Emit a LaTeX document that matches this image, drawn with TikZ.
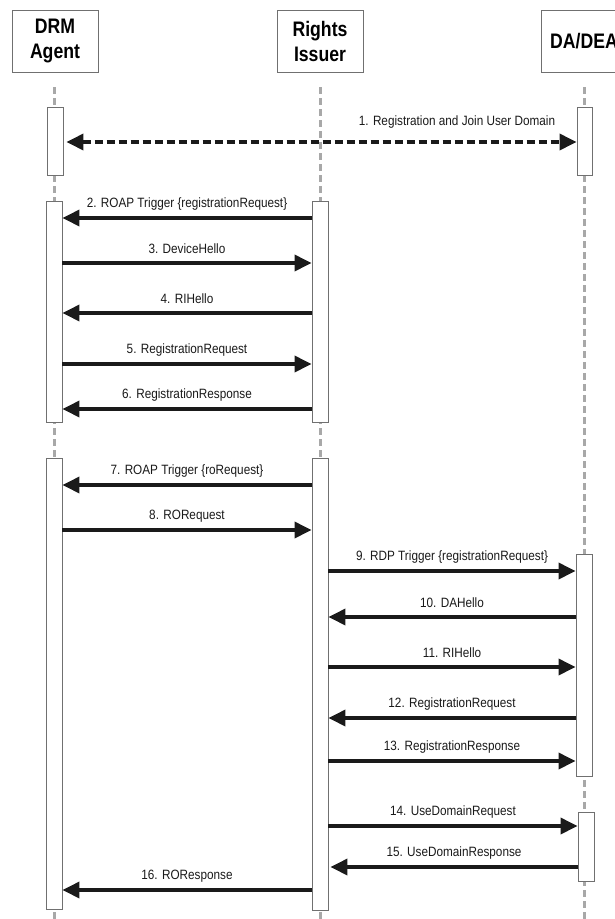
\documentclass[tikz,border=0pt]{standalone}
\usepackage{fontspec}
\setmainfont{Liberation Sans}
\newfontfamily\lblfont[FakeStretch=0.87]{Liberation Sans}
\newfontfamily\ttlfont[FakeStretch=0.84]{Liberation Sans Bold}
\usetikzlibrary{arrows.meta}
\definecolor{boxgray}{HTML}{707070}
\definecolor{lifegray}{HTML}{A8A8A8}
\definecolor{ink}{HTML}{1A1A1A}
\begin{document}
\begin{tikzpicture}[x=1pt,y=-1pt,
  header/.style={draw=boxgray,line width=0.9pt,minimum width=86pt,minimum height=62pt,inner sep=0pt,align=center,font=\ttlfont\fontsize{21}{25}\selectfont},
  actbox/.style={draw=boxgray,fill=white,line width=0.9pt,minimum width=16pt,inner sep=0pt},
  lifeline/.style={draw=lifegray,line width=3pt,dash pattern=on 7pt off 4pt},
  msg/.style={draw=ink,line width=3.5pt,-{Triangle[length=17pt,width=16pt]}},
  dmsg/.style={draw=ink,line width=3.5pt,dash pattern=on 8pt off 4pt,{Triangle[length=17pt,width=16pt]}-{Triangle[length=17pt,width=16pt]}},
  lblfnt/.style={font=\lblfont\fontsize{13.5}{16}\selectfont,text=ink,inner sep=0pt},
  lbl/.style={lblfnt,midway,yshift=14pt}
]
\useasboundingbox (0,0) rectangle (615,919);
\clip (0,0) rectangle (615,919);
\fill[white] (0,0) rectangle (615,919);

% headers
\node[header] (hdrm) at (55,41) {DRM\\Agent};
\node[header] (hri) at (320,41) {Rights\\Issuer};
\node[header] (hda) at (584,41) {DA/DEA};

% lifelines
\coordinate (ldrmT) at (54.5,87);  \coordinate (ldrmB) at (54.5,925);
\coordinate (lriT) at (320,87);    \coordinate (lriB) at (320,925);
\coordinate (ldaT) at (584.5,87);  \coordinate (ldaB) at (584.5,925);
\draw[lifeline] (ldrmT) -- (ldrmB);
\draw[lifeline] (lriT) -- (lriB);
\draw[lifeline] (ldaT) -- (ldaB);

% activation boxes
\node[actbox,minimum height=68pt] (drm1) at (55,141) {};
\node[actbox,minimum height=68pt,minimum width=15pt] (da1) at (584.5,141) {};
\node[actbox,minimum height=221pt] (drm2) at (54,311.5) {};
\node[actbox,minimum height=221pt] (ri2) at (320,311.5) {};
\node[actbox,minimum height=451pt] (drm3) at (54,683.5) {};
\node[actbox,minimum height=452pt] (ri3) at (320,684) {};
\node[actbox,minimum height=222pt] (da2) at (584,665) {};
\node[actbox,minimum height=69pt] (da3) at (586,846.5) {};

% messages
\draw[dmsg] ([xshift=3pt]drm1.east |- 0,142) -- (da1.west |- 0,142);
\node[lblfnt] (l1) at (457,122) {1. Registration and Join User Domain};

\draw[msg] (ri2.west |- 0,218) -- (drm2.east |- 0,218) node[lbl] (l2) {2. ROAP Trigger \{registrationRequest\}};
\draw[msg] (drm2.east |- 0,263) -- (ri2.west |- 0,263) node[lbl] (l3) {3. DeviceHello};
\draw[msg] (ri2.west |- 0,313) -- (drm2.east |- 0,313) node[lbl] (l4) {4. RIHello};
\draw[msg] (drm2.east |- 0,364) -- (ri2.west |- 0,364) node[lbl] (l5) {5. RegistrationRequest};
\draw[msg] (ri2.west |- 0,409) -- (drm2.east |- 0,409) node[lbl] (l6) {6. RegistrationResponse};

\draw[msg] (ri3.west |- 0,485) -- (drm3.east |- 0,485) node[lbl] (l7) {7. ROAP Trigger \{roRequest\}};
\draw[msg] (drm3.east |- 0,530) -- (ri3.west |- 0,530) node[lbl] (l8) {8. RORequest};

\draw[msg] (ri3.east |- 0,571) -- (da2.west |- 0,571) node[lbl] (l9) {9. RDP Trigger \{registrationRequest\}};
\draw[msg] (da2.west |- 0,617) -- (ri3.east |- 0,617) node[lbl] (l10) {10. DAHello};
\draw[msg] (ri3.east |- 0,667) -- (da2.west |- 0,667) node[lbl] (l11) {11. RIHello};
\draw[msg] (da2.west |- 0,718) -- (ri3.east |- 0,718) node[lbl] (l12) {12. RegistrationRequest};
\draw[msg] (ri3.east |- 0,761) -- (da2.west |- 0,761) node[lbl] (l13) {13. RegistrationResponse};

\draw[msg] (ri3.east |- 0,826) -- (da3.west |- 0,826) node[lbl] (l14) {14. UseDomainRequest};
\draw[msg] (da3.west |- 0,867) -- ([xshift=2pt]ri3.east |- 0,867) node[lbl] (l15) {15. UseDomainResponse};

\draw[msg] (ri3.west |- 0,890) -- (drm3.east |- 0,890) node[lbl] (l16) {16. ROResponse};
\end{tikzpicture}
\end{document}
